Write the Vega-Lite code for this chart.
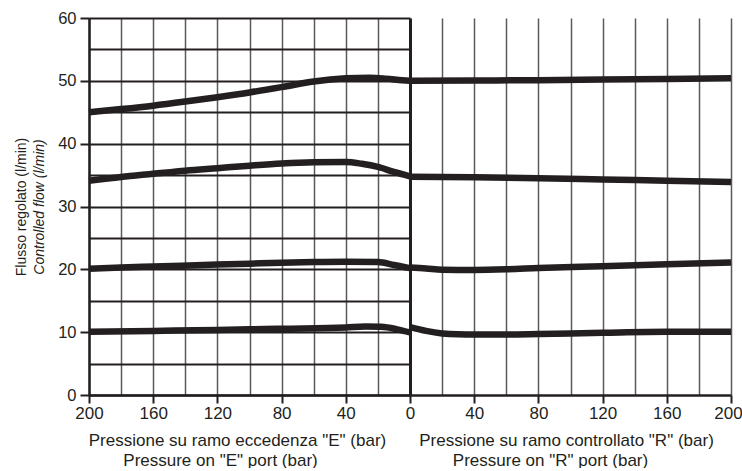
{
  "$schema": "https://vega.github.io/schema/vega-lite/v6.json",
  "background": "white",
  "padding": {"left": 14, "top": 10, "right": 0, "bottom": 0},
  "autosize": {"type": "pad"},
  "spacing": 0,
  "bounds": "flush",
  "config": {
    "view": {"stroke": null},
    "axis": {
      "labelFont": "Liberation Sans",
      "titleFont": "Liberation Sans",
      "labelColor": "#231f20",
      "titleColor": "#231f20",
      "titleFontWeight": "normal",
      "domainColor": "#231f20",
      "tickColor": "#231f20"
    }
  },
  "data": {
    "values": [
      {"side": "E", "curve": "c1", "p": 200, "q": 45.0},
      {"side": "E", "curve": "c1", "p": 180, "q": 45.5},
      {"side": "E", "curve": "c1", "p": 160, "q": 46.05},
      {"side": "E", "curve": "c1", "p": 140, "q": 46.7},
      {"side": "E", "curve": "c1", "p": 120, "q": 47.4},
      {"side": "E", "curve": "c1", "p": 100, "q": 48.15},
      {"side": "E", "curve": "c1", "p": 80, "q": 49.0},
      {"side": "E", "curve": "c1", "p": 60, "q": 49.9},
      {"side": "E", "curve": "c1", "p": 40, "q": 50.4},
      {"side": "E", "curve": "c1", "p": 25, "q": 50.5},
      {"side": "E", "curve": "c1", "p": 15, "q": 50.35},
      {"side": "E", "curve": "c1", "p": 5, "q": 50.1},
      {"side": "E", "curve": "c1", "p": 0, "q": 50.0},
      {"side": "E", "curve": "c2", "p": 200, "q": 34.1},
      {"side": "E", "curve": "c2", "p": 180, "q": 34.7},
      {"side": "E", "curve": "c2", "p": 160, "q": 35.2},
      {"side": "E", "curve": "c2", "p": 140, "q": 35.7},
      {"side": "E", "curve": "c2", "p": 120, "q": 36.1},
      {"side": "E", "curve": "c2", "p": 100, "q": 36.5},
      {"side": "E", "curve": "c2", "p": 80, "q": 36.85},
      {"side": "E", "curve": "c2", "p": 60, "q": 37.05},
      {"side": "E", "curve": "c2", "p": 40, "q": 37.1},
      {"side": "E", "curve": "c2", "p": 30, "q": 36.8},
      {"side": "E", "curve": "c2", "p": 20, "q": 36.3},
      {"side": "E", "curve": "c2", "p": 10, "q": 35.5},
      {"side": "E", "curve": "c2", "p": 0, "q": 34.8},
      {"side": "E", "curve": "c3", "p": 200, "q": 20.1},
      {"side": "E", "curve": "c3", "p": 180, "q": 20.3},
      {"side": "E", "curve": "c3", "p": 160, "q": 20.45},
      {"side": "E", "curve": "c3", "p": 120, "q": 20.75},
      {"side": "E", "curve": "c3", "p": 100, "q": 20.9},
      {"side": "E", "curve": "c3", "p": 80, "q": 21.05},
      {"side": "E", "curve": "c3", "p": 60, "q": 21.15},
      {"side": "E", "curve": "c3", "p": 40, "q": 21.2},
      {"side": "E", "curve": "c3", "p": 20, "q": 21.15},
      {"side": "E", "curve": "c3", "p": 10, "q": 20.7},
      {"side": "E", "curve": "c3", "p": 0, "q": 20.2},
      {"side": "E", "curve": "c4", "p": 200, "q": 10.05},
      {"side": "E", "curve": "c4", "p": 160, "q": 10.2},
      {"side": "E", "curve": "c4", "p": 120, "q": 10.35},
      {"side": "E", "curve": "c4", "p": 100, "q": 10.45},
      {"side": "E", "curve": "c4", "p": 80, "q": 10.55},
      {"side": "E", "curve": "c4", "p": 40, "q": 10.75},
      {"side": "E", "curve": "c4", "p": 28, "q": 10.9},
      {"side": "E", "curve": "c4", "p": 18, "q": 10.85},
      {"side": "E", "curve": "c4", "p": 8, "q": 10.45},
      {"side": "E", "curve": "c4", "p": 0, "q": 9.95},
      {"side": "R", "curve": "c1", "p": 0, "q": 50.0},
      {"side": "R", "curve": "c1", "p": 40, "q": 50.05},
      {"side": "R", "curve": "c1", "p": 80, "q": 50.1},
      {"side": "R", "curve": "c1", "p": 120, "q": 50.2},
      {"side": "R", "curve": "c1", "p": 160, "q": 50.3},
      {"side": "R", "curve": "c1", "p": 200, "q": 50.4},
      {"side": "R", "curve": "c2", "p": 0, "q": 34.75},
      {"side": "R", "curve": "c2", "p": 40, "q": 34.65},
      {"side": "R", "curve": "c2", "p": 80, "q": 34.5},
      {"side": "R", "curve": "c2", "p": 120, "q": 34.3},
      {"side": "R", "curve": "c2", "p": 160, "q": 34.1},
      {"side": "R", "curve": "c2", "p": 200, "q": 33.9},
      {"side": "R", "curve": "c3", "p": 0, "q": 20.3},
      {"side": "R", "curve": "c3", "p": 10, "q": 20.15},
      {"side": "R", "curve": "c3", "p": 20, "q": 19.95},
      {"side": "R", "curve": "c3", "p": 40, "q": 19.9},
      {"side": "R", "curve": "c3", "p": 60, "q": 20.0},
      {"side": "R", "curve": "c3", "p": 80, "q": 20.2},
      {"side": "R", "curve": "c3", "p": 120, "q": 20.5},
      {"side": "R", "curve": "c3", "p": 160, "q": 20.8},
      {"side": "R", "curve": "c3", "p": 200, "q": 21.1},
      {"side": "R", "curve": "c4", "p": 0, "q": 10.8},
      {"side": "R", "curve": "c4", "p": 10, "q": 10.2},
      {"side": "R", "curve": "c4", "p": 20, "q": 9.8},
      {"side": "R", "curve": "c4", "p": 30, "q": 9.65},
      {"side": "R", "curve": "c4", "p": 40, "q": 9.62},
      {"side": "R", "curve": "c4", "p": 60, "q": 9.62},
      {"side": "R", "curve": "c4", "p": 80, "q": 9.7},
      {"side": "R", "curve": "c4", "p": 120, "q": 9.9},
      {"side": "R", "curve": "c4", "p": 160, "q": 10.05},
      {"side": "R", "curve": "c4", "p": 200, "q": 10.05}
    ]
  },
  "hconcat": [
    {
      "width": 321,
      "height": 377,
      "transform": [{"filter": "datum.side === 'E'"}],
      "layer": [
        {
          "mark": {"type": "line", "interpolate": "monotone", "strokeWidth": 6.5, "color": "#231f20"},
          "encoding": {
            "x": {
              "field": "p", "type": "quantitative",
              "scale": {"domain": [0, 200], "reverse": true, "nice": false, "zero": false},
              "axis": {
                "values": [20, 40, 60, 80, 100, 120, 140, 160, 180, 200],
                "grid": true, "gridColor": "#5a5a5a", "gridWidth": 1.5,
                "labelExpr": "datum.value % 40 === 0 ? datum.label : ''",
                "labelFontSize": 17, "labelPadding": 2, "labelFlush": false, "labelOverlap": false,
                "tickSize": 8, "tickWidth": 2,
                "tickOpacity": {"condition": {"test": "datum.value % 40 === 0", "value": 1}, "value": 0},
                "domainWidth": 2.5,
                "title": "Pressione su ramo eccedenza \"E\" (bar)",
                "titleFontSize": 17, "titleX": 148, "titleY": 50,
                "titleBaseline": "alphabetic", "titleAlign": "center"
              }
            },
            "y": {
              "field": "q", "type": "quantitative",
              "scale": {"domain": [0, 60], "nice": false},
              "axis": {
                "values": [0, 5, 10, 15, 20, 25, 30, 35, 40, 45, 50, 55, 60],
                "grid": true, "gridColor": "#231f20", "gridWidth": 2,
                "labelExpr": "datum.value % 10 === 0 ? datum.label : ''",
                "labelFontSize": 16.5, "labelPadding": 4, "labelOverlap": false, "labelFlush": false,
                "tickSize": 9, "tickWidth": 2,
                "tickOpacity": {"condition": {"test": "datum.value % 10 === 0", "value": 1}, "value": 0},
                "domainWidth": 2.5,
                "title": "Controlled flow (l/min)",
                "titleFontSize": 14, "titleFontStyle": "italic", "titlePadding": 11
              }
            },
            "detail": {"field": "curve"}
          }
        },
        {
          "mark": {"type": "line", "opacity": 0},
          "encoding": {
            "x": {
              "field": "p", "type": "quantitative",
              "scale": {"domain": [0, 200], "reverse": true, "nice": false, "zero": false},
              "axis": {
                "orient": "bottom", "grid": false, "ticks": false, "labels": false, "domain": false,
                "title": "Pressure on \"E\" port (bar)",
                "titleFontSize": 17, "titleX": 131, "titleY": 70,
                "titleBaseline": "alphabetic", "titleAlign": "center"
              }
            },
            "y": {
              "field": "q", "type": "quantitative",
              "scale": {"domain": [0, 60], "nice": false},
              "axis": {
                "orient": "left", "grid": false, "ticks": false, "labels": false, "domain": false,
                "minExtent": 0,
                "title": "Flusso regolato (l/min)",
                "titleFontSize": 14, "titlePadding": 61
              }
            },
            "detail": {"field": "curve"}
          }
        }
      ],
      "resolve": {"axis": {"x": "independent", "y": "independent"}}
    },
    {
      "width": 321,
      "height": 377,
      "transform": [{"filter": "datum.side === 'R'"}],
      "layer": [
        {
          "mark": {"type": "line", "interpolate": "monotone", "strokeWidth": 6.5, "color": "#231f20"},
          "encoding": {
            "x": {
              "field": "p", "type": "quantitative",
              "scale": {"domain": [0, 200], "nice": false, "zero": false},
              "axis": {
                "values": [0, 20, 40, 60, 80, 100, 120, 140, 160, 180, 200],
                "grid": true,
                "gridColor": {"condition": {"test": "datum.value === 0", "value": "#231f20"}, "value": "#5a5a5a"},
                "gridWidth": {"condition": {"test": "datum.value === 0", "value": 3}, "value": 1.5},
                "labelExpr": "datum.value % 40 === 0 ? datum.label : ''",
                "labelFontSize": 17, "labelPadding": 2, "labelFlush": false, "labelOverlap": false,
                "labelOffset": {"condition": {"test": "datum.value === 200", "value": -3}, "value": 0},
                "tickSize": 8, "tickWidth": 2,
                "tickOpacity": {"condition": {"test": "datum.value % 40 === 0", "value": 1}, "value": 0},
                "domainWidth": 2.5,
                "title": "Pressione su ramo controllato \"R\" (bar)",
                "titleFontSize": 17, "titleX": 156, "titleY": 50,
                "titleBaseline": "alphabetic", "titleAlign": "center"
              }
            },
            "y": {
              "field": "q", "type": "quantitative",
              "scale": {"domain": [0, 60], "nice": false},
              "axis": {
                "values": [5, 10, 15, 20, 25, 30, 35, 40, 45, 50, 55, 60],
                "grid": true, "gridColor": "#231f20", "gridWidth": 2,
                "labels": false, "ticks": false, "domain": false,
                "minExtent": 0, "maxExtent": 0, "title": null
              }
            },
            "detail": {"field": "curve"}
          }
        },
        {
          "mark": {"type": "line", "opacity": 0},
          "encoding": {
            "x": {
              "field": "p", "type": "quantitative",
              "scale": {"domain": [0, 200], "nice": false, "zero": false},
              "axis": {
                "orient": "bottom", "grid": false, "ticks": false, "labels": false, "domain": false,
                "title": "Pressure on \"R\" port (bar)",
                "titleFontSize": 17, "titleX": 140, "titleY": 70,
                "titleBaseline": "alphabetic", "titleAlign": "center"
              }
            },
            "y": {"field": "q", "type": "quantitative", "axis": null},
            "detail": {"field": "curve"}
          }
        }
      ],
      "resolve": {"axis": {"x": "independent"}}
    }
  ]
}
